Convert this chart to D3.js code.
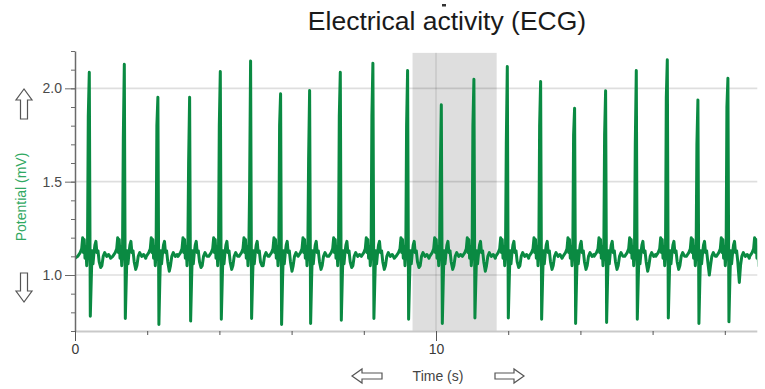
<!DOCTYPE html>
<html>
<head>
<meta charset="utf-8">
<script src="https://cdn.jsdelivr.net/npm/d3@7"></script>
<style>
  html, body { margin: 0; padding: 0; background: #fff; }
  text { font-family: "Liberation Sans", Arial, sans-serif; }
</style>
</head>
<body>
<script>
// ---------- DATA ----------
const titleText = "Electrical activity (ECG)";
const yLabel = "Potential (mV)";
const xLabel = "Time (s)";

// R-wave (spike) times in seconds
const beatTimes = [0.407, 1.377, 2.307, 3.186, 4.036, 4.875, 5.706, 6.510, 7.360, 8.263,
                   9.224, 10.158, 11.061, 11.986, 12.909, 13.850, 14.709, 15.559, 16.418,
                   17.266, 18.097, 19.02];
// R peak potential (mV)
const rPeaks = [2.086, 2.129, 1.952, 1.952, 2.090, 2.147, 1.971, 1.988, 2.086, 2.135,
                2.095, 1.912, 2.049, 2.117, 2.036, 1.893, 1.987, 2.095, 2.153, 1.938,
                2.054, 2.000];
// S trough potential (mV)
const sTroughs = [0.779, 0.767, 0.735, 0.753, 0.763, 0.767, 0.735, 0.740, 0.758, 0.767,
                  0.763, 0.740, 0.770, 0.770, 0.763, 0.740, 0.746, 0.763, 0.770, 0.740,
                  0.749, 0.760];
// upstroke knee reached before the R peak (mV)
const rKnees = [1.85, 1.73, 1.80, 1.60, 1.80, 1.45, 1.80, 1.62, 1.85, 1.85,
                1.80, 1.55, 1.80, 1.70, 1.80, 1.75, 1.75, 1.70, 1.95, 1.70,
                1.90, 1.80];
// depth of the dip following each beat (mV)
const postDips = [1.04, 1.03, 1.02, 1.04, 1.03, 1.05, 1.02, 1.03, 1.04, 1.03,
                  1.04, 1.03, 1.02, 1.04, 1.03, 1.03, 1.03, 1.02, 1.03, 1.00,
                  0.96, 1.03];

// Beat shape around each spike (offset from R time in s, potential in mV)
const preOffsets = [-0.332, -0.263, -0.222, -0.194, -0.172, -0.152, -0.130, -0.105, -0.083, -0.061];
const preValues  = [1.10, 1.12, 1.14, 1.20, 1.12, 1.19, 1.09, 1.15, 1.05, 1.12];
const kneeOffset = -0.039, rOffset = -0.011, sOffset = 0.017;
const postOffsets = [0.044, 0.066, 0.091, 0.119, 0.144, 0.172, 0.199, 0.230, 0.263, 0.305,
                     0.338, 0.374, 0.416, 0.471, 0.526, 0.582];
const postValues  = [0.98, 1.13, 1.06, 1.12, 1.16, 1.18, 1.12, 1.13, 1.07, null,
                     1.05, 1.10, 1.12, 1.10, 1.11, 1.09];
const startValue = 1.09;

const yMajorTicks = [1.0, 1.5, 2.0];
const yMinorTicks = [0.7, 0.8, 0.9, 1.0, 1.1, 1.2, 1.3, 1.4, 1.5, 1.6, 1.7, 1.8, 1.9, 2.0, 2.1, 2.2];
const xMajorTicks = [0, 10];
const xMinorTicks = [0, 2, 4, 6, 8, 10, 12, 14, 16, 18];
const highlight = [9.35, 11.68];
const xDomain = [0, 18.9];
const yDomain = [0.7, 2.2];

// ---------- BUILD TRACE ----------
const trace = [{t: 0, v: startValue}];
beatTimes.forEach((tr, i) => {
  const nextStart = i < beatTimes.length - 1 ? beatTimes[i + 1] + preOffsets[0] : Infinity;
  preOffsets.forEach((o, k) => trace.push({t: tr + o, v: preValues[k]}));
  trace.push({t: tr + kneeOffset, v: rKnees[i]});
  trace.push({t: tr + rOffset, v: rPeaks[i]});
  trace.push({t: tr + sOffset, v: sTroughs[i]});
  postOffsets.forEach((o, k) => {
    if (tr + o < nextStart) trace.push({t: tr + o, v: postValues[k] === null ? postDips[i] : postValues[k]});
  });
});

// ---------- DRAW ----------
const W = 765, H = 389;
const svg = d3.select("body").append("svg").attr("width", W).attr("height", H);

const x = d3.scaleLinear().domain(xDomain).range([75, 757.3]);
const y = d3.scaleLinear().domain(yDomain).range([331, 51]);

// highlight band
svg.append("rect")
  .attr("x", x(highlight[0])).attr("width", x(highlight[1]) - x(highlight[0]))
  .attr("y", y(2.19)).attr("height", y(0.7) - y(2.19))
  .attr("fill", "#dedede");

// vertical grid at major x ticks (visible inside band)
svg.append("g").selectAll("line").data(xMajorTicks.filter(d => d > 0)).join("line")
  .attr("x1", d => x(d)).attr("x2", d => x(d))
  .attr("y1", y(2.19)).attr("y2", y(0.7))
  .attr("stroke", "rgba(0,0,0,0.10)").attr("stroke-width", 1.5);

// horizontal grid
svg.append("g").selectAll("line").data(yMajorTicks).join("line")
  .attr("x1", x(0)).attr("x2", x(xDomain[1]))
  .attr("y1", d => y(d)).attr("y2", d => y(d))
  .attr("stroke", "rgba(0,0,0,0.13)").attr("stroke-width", 1.6);

// bottom baseline
svg.append("line")
  .attr("x1", x(0)).attr("x2", x(xDomain[1]))
  .attr("y1", y(0.7) + 0.5).attr("y2", y(0.7) + 0.5)
  .attr("stroke", "#c9c9c9").attr("stroke-width", 2);

// trace
svg.append("clipPath").attr("id", "plotclip").append("rect")
  .attr("x", x(0)).attr("y", 0).attr("width", x(xDomain[1]) - x(0)).attr("height", H);
svg.append("path")
  .datum(trace)
  .attr("clip-path", "url(#plotclip)")
  .attr("fill", "none")
  .attr("stroke", "#0a8a42")
  .attr("stroke-width", 3)
  .attr("stroke-linejoin", "round")
  .attr("stroke-linecap", "round")
  .attr("d", d3.line().x(d => x(d.t)).y(d => y(d.v)));

// y axis
const yMinor = svg.append("g").attr("transform", `translate(${x(0)},0)`)
  .call(d3.axisLeft(y).tickValues(yMinorTicks).tickSize(4).tickSizeOuter(0).tickFormat(""));
yMinor.select(".domain").attr("stroke", "#6a6a6a").attr("stroke-width", 1.5);
yMinor.selectAll(".tick line").attr("stroke", "#6a6a6a");
const yMajor = svg.append("g").attr("transform", `translate(${x(0)},0)`)
  .call(d3.axisLeft(y).tickValues(yMajorTicks).tickSize(10).tickPadding(3).tickFormat(d3.format(".1f")));
yMajor.select(".domain").remove();
yMajor.selectAll(".tick line").attr("stroke", "#6a6a6a");
yMajor.selectAll(".tick text").attr("fill", "#4a4a4a").style("font-size", "14px");

// x axis
const xMinor = svg.append("g").attr("transform", `translate(0,${y(0.7)})`)
  .call(d3.axisBottom(x).tickValues(xMinorTicks).tickSize(4).tickSizeOuter(0).tickFormat(""));
xMinor.select(".domain").remove();
xMinor.selectAll(".tick line").attr("stroke", "#555");
const xMajor = svg.append("g").attr("transform", `translate(0,${y(0.7)})`)
  .call(d3.axisBottom(x).tickValues(xMajorTicks).tickSize(10).tickPadding(3).tickFormat(d3.format("d")));
xMajor.select(".domain").remove();
xMajor.selectAll(".tick line").attr("stroke", "#555");
xMajor.selectAll(".tick text").attr("fill", "#3a3a3a").style("font-size", "14px");

// title
svg.append("text").attr("x", 447).attr("y", 30).attr("text-anchor", "middle")
  .style("font-size", "26.5px").attr("fill", "#1a1a1a").text(titleText);
svg.append("rect").attr("x", 442).attr("y", 4).attr("width", 4).attr("height", 2.5).attr("fill", "#333");

// y label
svg.append("text").attr("transform", "translate(26,197) rotate(-90)")
  .attr("text-anchor", "middle").style("font-size", "14px").attr("fill", "#2fa862").text(yLabel);

// x label
svg.append("text").attr("x", 438).attr("y", 381).attr("text-anchor", "middle")
  .style("font-size", "14px").attr("fill", "#444").text(xLabel);

// hollow arrows
function hArrow(x0, x1, yc, dir) {
  const head = 10, hh = 7, sh = 3;
  const tip = dir < 0 ? x0 : x1, tail = dir < 0 ? x1 : x0;
  const hb = tip - dir * head;
  return `M${tip},${yc} L${hb},${yc - hh} L${hb},${yc - sh} L${tail},${yc - sh} L${tail},${yc + sh} L${hb},${yc + sh} L${hb},${yc + hh} Z`;
}
function vArrow(y0, y1, xc, dir) {
  const head = 11, hw = 8, sw = 3.5;
  const tip = dir < 0 ? y0 : y1, tail = dir < 0 ? y1 : y0;
  const hb = tip - dir * head;
  return `M${xc},${tip} L${xc - hw},${hb} L${xc - sw},${hb} L${xc - sw},${tail} L${xc + sw},${tail} L${xc + sw},${hb} L${xc + hw},${hb} Z`;
}
const arrowStyle = g => g.attr("fill", "#fff").attr("stroke", "#555").attr("stroke-width", 1.2).attr("stroke-linejoin", "miter");
svg.append("path").attr("d", vArrow(89, 119, 24, -1)).call(arrowStyle);
svg.append("path").attr("d", vArrow(273, 302, 24, 1)).call(arrowStyle);
svg.append("path").attr("d", hArrow(352, 382, 376, -1)).call(arrowStyle);
svg.append("path").attr("d", hArrow(495, 524, 376, 1)).call(arrowStyle);
</script>
</body>
</html>
